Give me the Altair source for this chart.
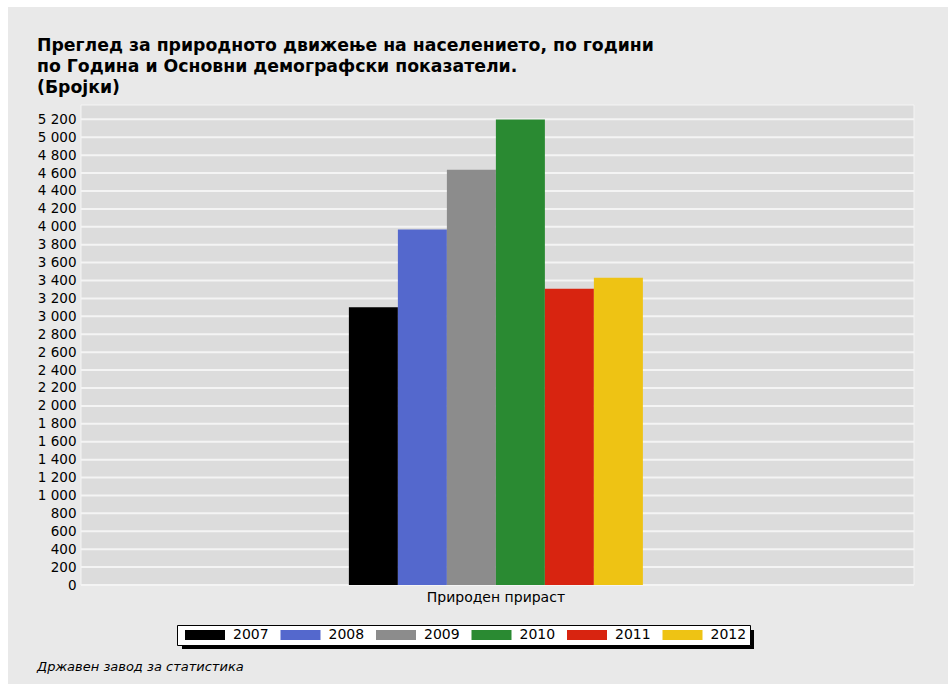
import altair as alt
import pandas as pd

# Natural population increase by year
category = "Природен прираст"
years = ["2007", "2008", "2009", "2010", "2011", "2012"]
values = [3102, 3971, 4637, 5198, 3309, 3431]
colors = ["#000000", "#5468cd", "#8c8c8c", "#2a8a32", "#d82410", "#eec314"]
y_ticks = list(range(0, 5201, 200))

title_lines = [
    "Преглед за природното движење на населението, по години",
    "по Година и Основни демографски показатели.",
    "(Бројки)",
]
source_note = "Државен завод за статистика"

W, H = 833, 480
FONT = "DejaVu Sans"

bars_df = pd.DataFrame({"cat": [category] * len(years), "year": years, "value": values})
ticks_df = pd.DataFrame({"value": y_ticks})
one_row = alt.Data(values=[{}])

y_scale = alt.Scale(domain=[0, 5360], nice=False, zero=True)
y_axis = alt.Axis(
    values=y_ticks, grid=False, ticks=False, domain=False,
    labelFont=FONT, labelFontSize=13.5, labelColor="#000000", labelPadding=5,
    labelExpr="replace(format(datum.value, ','), ',', ' ')", zindex=1,
)

# page background
page_bg = alt.Chart(one_row).mark_rect(color="#e9e9e9").encode(
    x=alt.value(-73), x2=alt.value(W + 34), y=alt.value(-98), y2=alt.value(H + 99)
)

# plot area panel
panel = alt.Chart(one_row).mark_rect(fill="#dcdcdc", stroke="#f4f4f4", strokeWidth=1).encode(
    x=alt.value(0), x2=alt.value(W), y=alt.value(0), y2=alt.value(H)
)

# horizontal gridlines
grid = alt.Chart(ticks_df).mark_rule(color="#f4f4f4", strokeWidth=2).encode(
    y=alt.Y("value:Q", scale=y_scale, axis=y_axis, title=None),
    x=alt.value(0),
    x2=alt.value(W),
)

bars = alt.Chart(bars_df).mark_bar(stroke=None).encode(
    x=alt.X(
        "cat:N",
        title=None,
        scale=alt.Scale(paddingInner=0, paddingOuter=0.9167, align=0.497),
        axis=alt.Axis(
            labelFont=FONT, labelFontSize=14, labelColor="#000000", labelAngle=0,
            ticks=False, domain=False, labelPadding=5, zindex=1,
        ),
    ),
    xOffset=alt.XOffset("year:N", scale=alt.Scale(paddingInner=0, paddingOuter=0), sort=years),
    y=alt.Y("value:Q", title=None, scale=y_scale, axis=y_axis),
    color=alt.Color(
        "year:N",
        scale=alt.Scale(domain=years, range=colors),
        legend=alt.Legend(
            title=None, orient="none", direction="horizontal", columns=6,
            legendX=96, legendY=520,
            fillColor="#ffffff", strokeColor="#000000", padding=3,
            symbolType="M-4,-1H4V1H-4Z", symbolSize=100, symbolStrokeWidth=0,
            symbolOffset=18,
            labelFont=FONT, labelFontSize=14, labelColor="#000000", labelOffset=21,
            columnPadding=6.5, zindex=1,
        ),
    ),
)

# drop shadow behind the legend box
legend_shadow = alt.Chart(one_row).mark_rect(color="#000000").encode(
    x=alt.value(101), x2=alt.value(673), y=alt.value(525), y2=alt.value(544)
)

title_text = alt.Chart(one_row).mark_text(
    text=title_lines, font=FONT, fontSize=17.3, fontWeight="bold", align="left",
    baseline="top", color="#000000", lineHeight=21,
).encode(x=alt.value(-44), y=alt.value(-68))

footer = alt.Chart(one_row).mark_text(
    text=source_note, font=FONT, fontSize=13, fontStyle="italic", align="left",
    baseline="middle", color="#000000",
).encode(x=alt.value(-44), y=alt.value(562))

chart = alt.layer(page_bg, panel, grid, bars, legend_shadow, title_text, footer).properties(
    width=W,
    height=H,
    autosize=alt.AutoSizeParams(type="none"),
    padding={"left": 81, "top": 105, "right": 34, "bottom": 99},
).configure(background="#ffffff").configure_view(stroke=None)

chart.save("out.html", embed_options={"renderer": "svg", "actions": False})
